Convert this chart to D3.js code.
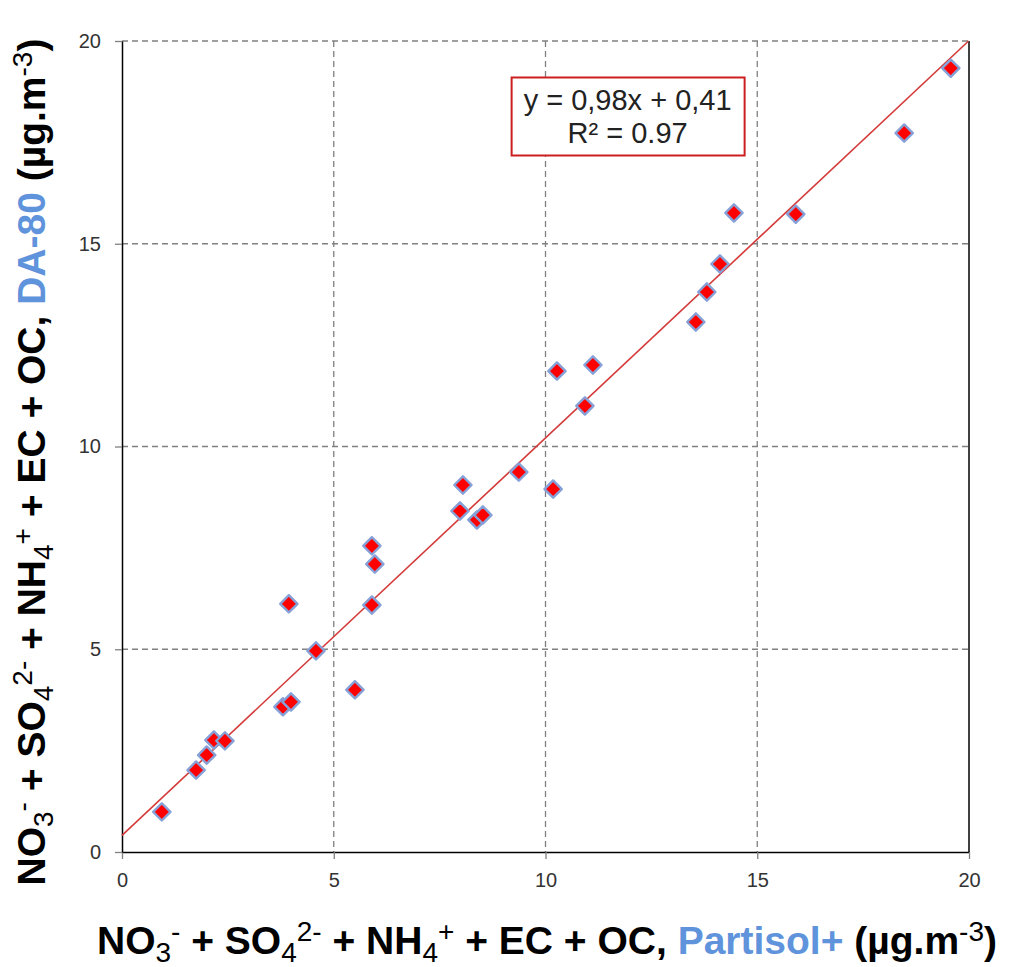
<!DOCTYPE html>
<html>
<head>
<meta charset="utf-8">
<script src="https://cdn.jsdelivr.net/npm/d3@7"></script>
<style>
  body { margin: 0; background: #fff; }
  svg { font-family: "Liberation Sans", Arial, sans-serif; }
</style>
</head>
<body>
<svg id="chart" width="1014" height="967"></svg>
<script>
// Partisol+ (x) vs DA-80 (y) values
const partisol = [0.94, 1.75, 2.0, 2.17, 2.43, 3.8, 3.99, 3.94, 4.58, 5.5, 5.9, 5.9, 5.97,
  7.98, 8.05, 8.38, 8.52, 9.37, 10.18, 10.27, 10.93, 11.12, 13.55, 13.81, 14.12, 14.45,
  15.91, 18.47, 19.57];
const da80 = [0.99, 2.02, 2.39, 2.76, 2.74, 3.58, 3.7, 6.12, 4.96, 4.0, 6.09, 7.55, 7.1,
  8.41, 9.05, 8.19, 8.31, 9.37, 8.95, 11.86, 11.0, 12.01, 13.07, 13.81, 14.5, 15.76,
  15.73, 17.73, 19.33];
const ticks = [0, 5, 10, 15, 20];
const slope = 0.98, intercept = 0.41;
const eqText = "y = 0,98x + 0,41";
const r2Text = "R² = 0.97";

const svg = d3.select("#chart");
const margin = { left: 122, right: 45, top: 41, bottom: 115 };
const w = 1014 - margin.left - margin.right;
const h = 967 - margin.top - margin.bottom;

const x = d3.scaleLinear().domain([0, 20]).range([0, w]);
const y = d3.scaleLinear().domain([0, 20]).range([h, 0]);

const g = svg.append("g").attr("transform", `translate(${margin.left},${margin.top})`);

// grid
g.append("g").selectAll("line").data(ticks.slice(1)).enter().append("line")
  .attr("x1", 0).attr("x2", w).attr("y1", d => y(d)).attr("y2", d => y(d))
  .attr("stroke", "#808080").attr("stroke-width", 1.3).attr("stroke-dasharray", "6,4");
g.append("g").selectAll("line").data(ticks.slice(1, 4)).enter().append("line")
  .attr("y1", 0).attr("y2", h).attr("x1", d => x(d)).attr("x2", d => x(d))
  .attr("stroke", "#808080").attr("stroke-width", 1.3).attr("stroke-dasharray", "6,4");

// right border
g.append("line").attr("x1", w).attr("x2", w).attr("y1", 0).attr("y2", h)
  .attr("stroke", "#000").attr("stroke-width", 1.5);

// axes
const xAxis = g.append("g").attr("transform", `translate(0,${h})`)
  .call(d3.axisBottom(x).tickValues(ticks).tickSize(7).tickSizeOuter(0).tickPadding(14));
const yAxis = g.append("g")
  .call(d3.axisLeft(y).tickValues(ticks).tickSize(7).tickSizeOuter(0).tickPadding(14));
[xAxis, yAxis].forEach(a => {
  a.select(".domain").attr("stroke", "#000").attr("stroke-width", 1.5);
  a.selectAll(".tick line").attr("stroke", "#808080").attr("stroke-width", 1.3);
  a.selectAll("text").attr("font-size", 20).attr("fill", "#333")
    .attr("font-family", "Liberation Sans, Arial, sans-serif");
});

// regression line
const x2 = (20 - intercept) / slope;
g.append("line")
  .attr("x1", x(0)).attr("y1", y(intercept))
  .attr("x2", x(x2)).attr("y2", y(slope * x2 + intercept))
  .attr("stroke", "#d43a3a").attr("stroke-width", 1.6);

// points
const diamond = d3.symbol().type(d3.symbolDiamond2).size(190);
g.append("g").selectAll("path").data(partisol.map((v, i) => [v, da80[i]])).enter().append("path")
  .attr("d", diamond)
  .attr("transform", d => `translate(${x(d[0])},${y(d[1])})`)
  .attr("fill", "#ff0000").attr("stroke", "#86a0d8").attr("stroke-width", 2.4)
  .attr("stroke-linejoin", "round");

// equation box
const bx = x(9.2), by = y(19.1);
g.append("rect").attr("x", bx).attr("y", by).attr("width", 233).attr("height", 78)
  .attr("fill", "#fff").attr("stroke", "#cc1f1f").attr("stroke-width", 2);
g.append("text").attr("x", bx + 116).attr("y", by + 33).attr("text-anchor", "middle")
  .attr("font-size", 29).attr("fill", "#222").text(eqText);
g.append("text").attr("x", bx + 116).attr("y", by + 66).attr("text-anchor", "middle")
  .attr("font-size", 29).attr("fill", "#222").text(r2Text);

// axis titles with sub/superscripts
const blue = "#5f93dc";
function title(sel, source) {
  const parts = [
    ["NO", 0], ["3", 1], ["-", 2], [" + SO", 0], ["4", 1], ["2-", 2],
    [" + NH", 0], ["4", 1], ["+", 2], [" + EC + OC, ", 0], [source, 3],
    [" (µg.m", 0], ["-3", 2], [")", 0]
  ];
  let prev = 0;
  parts.forEach(([t, k]) => {
    const shift = k === 1 ? 8 : k === 2 ? -13 : 0;
    const ts = sel.append("tspan").text(t).attr("dy", shift - prev);
    if (k === 1 || k === 2) ts.attr("font-size", 28).attr("font-weight", "normal");
    if (k === 3) ts.attr("fill", blue);
    prev = shift;
  });
}
const xt = svg.append("text").attr("x", 547).attr("y", 954)
  .attr("text-anchor", "middle").attr("font-size", 39).attr("font-weight", "bold").attr("fill", "#000");
title(xt, "Partisol+");
const yt = svg.append("text").attr("transform", `translate(45,462) rotate(-90)`)
  .attr("text-anchor", "middle").attr("font-size", 39).attr("font-weight", "bold").attr("fill", "#000");
title(yt, "DA-80");
</script>
</body>
</html>
